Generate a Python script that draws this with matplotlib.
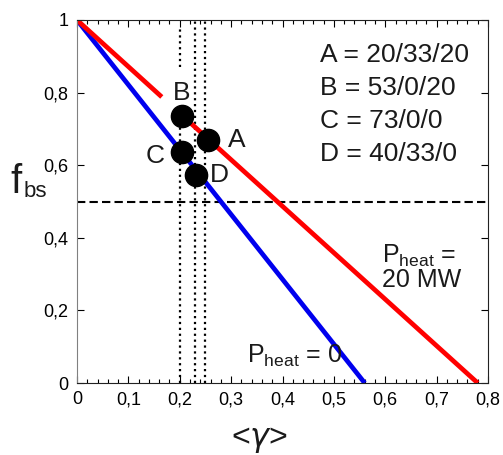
import numpy as np
import matplotlib
matplotlib.use("Agg")
import matplotlib.pyplot as plt

plt.rcParams['font.family'] = ['Liberation Sans', 'DejaVu Sans']
plt.rcParams['mathtext.fontset'] = 'custom'
plt.rcParams['mathtext.rm'] = 'Liberation Sans'
plt.rcParams['mathtext.it'] = 'DejaVu Sans:italic'
plt.rcParams['text.color'] = '#1a1a1a'

# f_bs against <gamma>, Pheat = 0 (blue) and Pheat = 20 MW (red)
blue_gamma = [0.0, 0.56]
blue_fbs = [1.0, 0.0]
red_gamma = [0.0, 0.165, np.nan, 0.204, 0.78]
red_fbs = [1.0, 0.788, np.nan, 0.738, 0.0]

# operating points
pt_names = ['A', 'B', 'C', 'D']
pt_gamma = [0.255, 0.204, 0.205, 0.231]
pt_fbs = [0.669, 0.736, 0.637, 0.573]
pt_desc = ['A = 20/33/20', 'B = 53/0/20', 'C = 73/0/0', 'D = 40/33/0']

# dotted guide lines
vline_gamma = [0.2, 0.2, 0.23, 0.25]
vline_lo = [0.0, 0.87, 0.0, 0.0]
vline_hi = [0.76, 0.975, 1.0, 1.0]
hline_fbs = 0.5

xticks = [0, 0.1, 0.2, 0.3, 0.4, 0.5, 0.6, 0.7, 0.8]
xtick_labels = ['0', '0,1', '0,2', '0,3', '0,4', '0,5', '0,6', '0,7', '0,8']
yticks = [0, 0.2, 0.4, 0.6, 0.8, 1.0]
ytick_labels = ['0', '0,2', '0,4', '0,6', '0,8', '1']

fig = plt.figure(figsize=(5.03, 4.55), dpi=100)
ax = fig.add_axes([77 / 503, 72 / 455, 411 / 503, 363 / 455])

ax.vlines(vline_gamma, vline_lo, vline_hi, colors='black', linestyles=':', linewidth=1.6, zorder=1)
ax.axhline(hline_fbs, color='black', linestyle=(0, (4, 2)), linewidth=1.5, zorder=1)

ax.plot(blue_gamma, blue_fbs, color='#0000ee', linewidth=3.4, solid_capstyle='butt', zorder=2)
ax.plot(red_gamma, red_fbs, color='#ff0000', linewidth=3.4, solid_capstyle='butt', zorder=2)

ax.plot(pt_gamma, pt_fbs, 'o', color='black', markersize=16, zorder=5)

# letters beside the points
label_pos = {'A': (0.294, 0.650, 'left'), 'B': (0.204, 0.780, 'center'),
             'C': (0.134, 0.606, 'left'), 'D': (0.259, 0.554, 'left')}
for name in pt_names:
    x, y, ha = label_pos[name]
    ax.text(x, y, name, fontsize=19, ha=ha, va='baseline', zorder=6)

# scenario list in the upper right
for i, s in enumerate(pt_desc):
    ax.text(0.473, 0.884 - i * 0.091, s, fontsize=19, ha='left', va='baseline')

ax.text(0.331, 0.055, r'P$_{\mathrm{heat}}$ = 0', fontsize=18, ha='left', va='baseline')
ax.text(0.593, 0.331, r'P$_{\mathrm{heat}}$ =', fontsize=18, ha='left', va='baseline')
ax.text(0.593, 0.264, '20 MW', fontsize=18, ha='left', va='baseline')

ax.set_xlim(0, 0.8)
ax.set_ylim(0, 1)
ax.set_xticks(xticks)
ax.set_xticklabels(xtick_labels)
ax.set_xticks(np.arange(0, 0.801, 0.02), minor=True)
ax.set_yticks(yticks)
ax.set_yticklabels(ytick_labels)
ax.tick_params(axis='both', which='both', direction='in', top=True, right=True,
               labelsize=13, pad=6, width=0.8)
ax.tick_params(which='major', length=5)
ax.tick_params(which='minor', length=3)
for side in ['top', 'right', 'bottom']:
    ax.spines[side].set_color('#222222')
ax.spines['left'].set_color('#808080')

# axis titles
ax.text(0.356, -0.174, r'<$\gamma$>', fontsize=23, ha='center', va='baseline',
        transform=ax.get_xaxis_transform())
fig.text(10 / 503, (455 - 193) / 455, 'f', fontsize=29, ha='left', va='baseline')
fig.text(24 / 503, (455 - 197) / 455, 'bs', fontsize=16, ha='left', va='baseline')

fig.savefig('out.png', dpi=100)
